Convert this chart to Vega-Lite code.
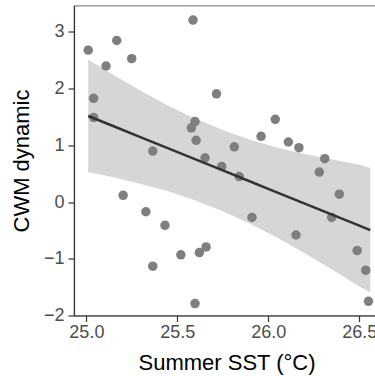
{
  "$schema": "https://vega.github.io/schema/vega-lite/v6.json",
  "width": 305,
  "height": 310,
  "autosize": {"type": "none"},
  "padding": {"left": 74, "top": 5.5, "right": 0, "bottom": 60.5},
  "background": "white",
  "config": {
    "font": "Liberation Sans",
    "view": {"stroke": "#8c8c8c", "strokeWidth": 1.2},
    "axis": {
      "grid": false,
      "tickSize": 6,
      "labelFontSize": 18,
      "titleFontSize": 22,
      "labelColor": "#4d4d4d",
      "titleColor": "#000000",
      "titleFontWeight": "normal",
      "domainColor": "#333333",
      "tickColor": "#333333",
      "domainWidth": 1.2,
      "tickWidth": 1.2,
      "labelFlush": false,
      "labelOverlap": false
    }
  },
  "datasets": {
    "pts": [
      {"sst": 25.01, "cwm": 2.68},
      {"sst": 25.04, "cwm": 1.83},
      {"sst": 25.04, "cwm": 1.49},
      {"sst": 25.108, "cwm": 2.40},
      {"sst": 25.167, "cwm": 2.85},
      {"sst": 25.202, "cwm": 0.12},
      {"sst": 25.249, "cwm": 2.53},
      {"sst": 25.327, "cwm": -0.17},
      {"sst": 25.365, "cwm": 0.90},
      {"sst": 25.365, "cwm": -1.13},
      {"sst": 25.432, "cwm": -0.41},
      {"sst": 25.519, "cwm": -0.93},
      {"sst": 25.577, "cwm": 1.31},
      {"sst": 25.586, "cwm": 3.21},
      {"sst": 25.597, "cwm": 1.42},
      {"sst": 25.597, "cwm": -1.79},
      {"sst": 25.603, "cwm": 1.09},
      {"sst": 25.621, "cwm": -0.89},
      {"sst": 25.652, "cwm": 0.78},
      {"sst": 25.658, "cwm": -0.79},
      {"sst": 25.715, "cwm": 1.91},
      {"sst": 25.744, "cwm": 0.63},
      {"sst": 25.813, "cwm": 0.975},
      {"sst": 25.84, "cwm": 0.45},
      {"sst": 25.91, "cwm": -0.27},
      {"sst": 25.96, "cwm": 1.16},
      {"sst": 26.038, "cwm": 1.46},
      {"sst": 26.11, "cwm": 1.06},
      {"sst": 26.152, "cwm": -0.58},
      {"sst": 26.168, "cwm": 0.96},
      {"sst": 26.28, "cwm": 0.53},
      {"sst": 26.31, "cwm": 0.765},
      {"sst": 26.348, "cwm": -0.27},
      {"sst": 26.39, "cwm": 0.14},
      {"sst": 26.488, "cwm": -0.855},
      {"sst": 26.535, "cwm": -1.20},
      {"sst": 26.55, "cwm": -1.75}
    ],
    "fit": [
      {"sst": 25.01, "fit": 1.518, "lo": 0.53, "hi": 2.51},
      {"sst": 25.15, "fit": 1.337, "lo": 0.44, "hi": 2.24},
      {"sst": 25.3, "fit": 1.142, "lo": 0.32, "hi": 1.96},
      {"sst": 25.45, "fit": 0.947, "lo": 0.19, "hi": 1.70},
      {"sst": 25.6, "fit": 0.752, "lo": 0.03, "hi": 1.47},
      {"sst": 25.75, "fit": 0.558, "lo": -0.16, "hi": 1.27},
      {"sst": 25.9, "fit": 0.363, "lo": -0.38, "hi": 1.10},
      {"sst": 26.05, "fit": 0.168, "lo": -0.63, "hi": 0.96},
      {"sst": 26.2, "fit": -0.026, "lo": -0.90, "hi": 0.85},
      {"sst": 26.35, "fit": -0.221, "lo": -1.19, "hi": 0.75},
      {"sst": 26.5, "fit": -0.416, "lo": -1.49, "hi": 0.66},
      {"sst": 26.56, "fit": -0.494, "lo": -1.59, "hi": 0.60}
    ]
  },
  "encoding": {
    "x": {
      "field": "sst",
      "type": "quantitative",
      "scale": {"domain": [24.932, 26.608], "nice": false, "zero": false},
      "axis": {
        "values": [25, 25.5, 26, 26.5],
        "format": ".1f",
        "title": "Summer SST (°C)",
        "labelPadding": 2,
        "titlePadding": 11
      }
    }
  },
  "layer": [
    {
      "data": {"name": "fit"},
      "mark": {"type": "area", "color": "#d6d6d6", "opacity": 1},
      "encoding": {
        "y": {
          "field": "lo",
          "type": "quantitative",
          "scale": {"domain": [-2, 3.467], "nice": false, "zero": false},
          "axis": {"values": [-2, -1, 0, 1, 2, 3], "title": "CWM dynamic", "labelPadding": 4, "titlePadding": 10}
        },
        "y2": {"field": "hi"}
      }
    },
    {
      "data": {"name": "pts"},
      "mark": {"type": "circle", "size": 90, "color": "#7f7f7f", "opacity": 1},
      "encoding": {
        "y": {
          "field": "cwm",
          "type": "quantitative",
          "axis": {"values": [-2, -1, 0, 1, 2, 3], "title": "CWM dynamic", "labelPadding": 4, "titlePadding": 10}
        }
      }
    },
    {
      "data": {"name": "fit"},
      "mark": {"type": "line", "color": "#333333", "strokeWidth": 2.5},
      "encoding": {
        "y": {
          "field": "fit",
          "type": "quantitative",
          "axis": {"values": [-2, -1, 0, 1, 2, 3], "title": "CWM dynamic", "labelPadding": 4, "titlePadding": 10}
        }
      }
    }
  ]
}
